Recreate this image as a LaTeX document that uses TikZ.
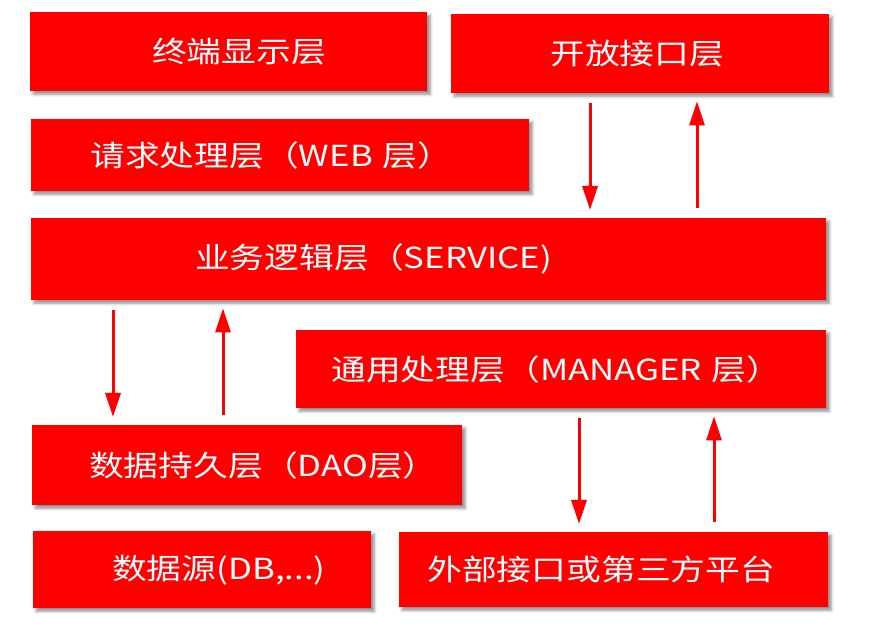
\documentclass[tikz,border=0pt]{standalone}
\usepackage{fontspec}
\setmainfont{Noto Sans CJK SC}[FakeStretch=1.2]
\usepackage{tikz}
\usetikzlibrary{arrows.meta,positioning,calc,shadows.blur}
\definecolor{layerred}{RGB}{255,0,0}

\tikzset{
    layer/.style n args={3}{fill=layerred, text=white, anchor=north west,
        inner xsep=0pt, text width=#1, minimum height=#2, align=left,
        font=\fontsize{29}{31}\selectfont,
        execute at begin node={\hspace*{#3}},
        blur shadow={shadow xshift=3pt, shadow yshift=-3pt,
            shadow blur radius=3pt, shadow opacity=45}},
    flow/.style={draw=layerred, line width=3pt,
        -{Triangle[length=24pt,width=15pt]},
        shorten <=10pt, shorten >=8pt}
}

\begin{document}
\begin{tikzpicture}[x=1pt, y=1pt]
    \useasboundingbox (0,0) rectangle (871,631);
    % Layers
    \node[layer={397pt}{79pt}{122pt}] (term) at (30,619) {终端显示层};
    \node[layer={378pt}{79pt}{99pt}] (open) at (451,617) {开放接口层};
    \node[layer={498pt}{72pt}{59pt}] (web) at (31,512) {请求处理层（WEB 层）};
    \node[layer={795pt}{82pt}{164pt}] (service) at (31,413) {业务逻辑层（SERVICE)};
    \node[layer={530pt}{78pt}{35pt}] (manager) at (296,301) {通用处理层（MANAGER 层）};
    \node[layer={430pt}{80pt}{57pt}] (dao) at (32,206) {数据持久层（DAO层）};
    \node[layer={338pt}{77pt}{79pt}] (db) at (33,100) {数据源(DB,...)};
    \node[layer={429pt}{75pt}{28pt}] (ext) at (399,99) {外部接口或第三方平台};
    % Arrows
    \draw[flow] (open.south -| 590,0) -- (service.north -| 590,0);
    \draw[flow] (service.north -| 697,0) -- (open.south -| 697,0);
    \draw[flow] (service.south -| 113,0) -- (dao.north -| 113,0);
    \draw[flow] (dao.north -| 223,0) -- (service.south -| 223,0);
    \draw[flow] (manager.south -| 579,0) -- (ext.north -| 579,0);
    \draw[flow] (ext.north -| 714,0) -- (manager.south -| 714,0);
\end{tikzpicture}
\end{document}
